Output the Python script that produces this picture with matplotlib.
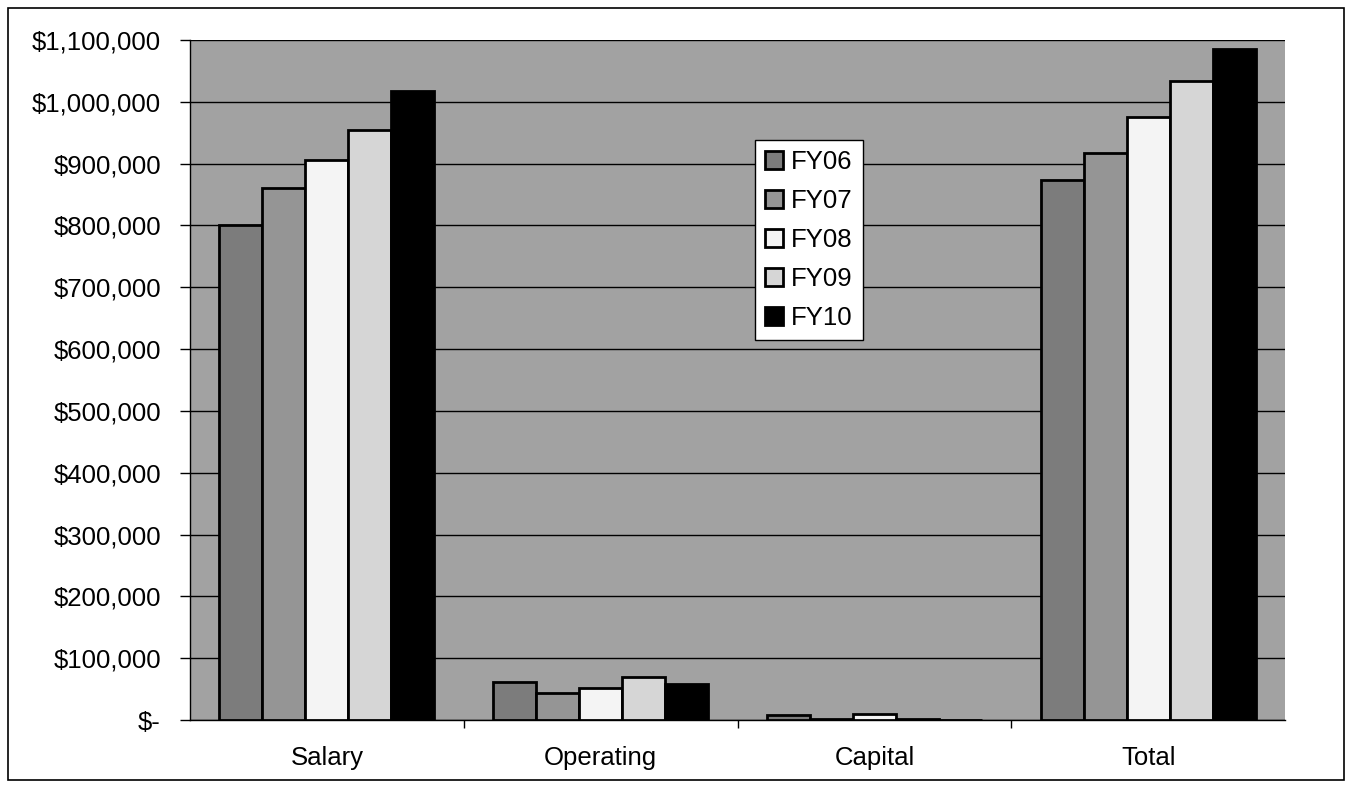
import matplotlib.pyplot as plt
import numpy as np
from matplotlib.patches import Rectangle
from matplotlib.ticker import FuncFormatter

plt.rcParams['font.family'] = ['Liberation Sans', 'DejaVu Sans']

categories = ['Salary', 'Operating', 'Capital', 'Total']
years = ['FY06', 'FY07', 'FY08', 'FY09', 'FY10']
fy06 = [800000, 62000, 8000, 873000]
fy07 = [861000, 44000, 2000, 917000]
fy08 = [906000, 51000, 10000, 975000]
fy09 = [955000, 69000, 1000, 1033000]
fy10 = [1018000, 59000, 0, 1085000]
series = [fy06, fy07, fy08, fy09, fy10]
colors = ['#7c7c7c', '#959595', '#f4f4f4', '#d6d6d6', '#000000']

fig = plt.figure(figsize=(13.54, 7.88), dpi=100)
ax = fig.add_axes([190 / 1354, 1 - 720 / 788, 1095 / 1354, 680 / 788])
ax.set_facecolor('#a2a2a2')

x = np.arange(len(categories))
w = 0.157
for i, (vals, c) in enumerate(zip(series, colors)):
    ax.bar(x + (i - 2) * w, vals, w, color=c, edgecolor='black',
           linewidth=2, label=years[i], zorder=3)

ax.set_xlim(-0.5, 3.5)
ax.set_ylim(0, 1100000)
ax.set_yticks(np.arange(0, 1100001, 100000))
ax.yaxis.set_major_formatter(FuncFormatter(lambda v, p: '$-' if v == 0 else '${:,.0f}'.format(v)))
ax.grid(axis='y', color='black', linewidth=1, zorder=1)
ax.set_xticks(x)
ax.set_xticklabels(categories)
ax.set_xticks([0.5, 1.5, 2.5], minor=True)
ax.tick_params(axis='x', which='major', length=0, pad=19, labelsize=18.5)
ax.tick_params(axis='x', which='minor', length=6, width=1)
ax.tick_params(axis='y', length=7, width=1, pad=14, labelsize=18.5)
for s in ['top', 'right']:
    ax.spines[s].set_visible(False)
ax.spines['left'].set_linewidth(1)
ax.spines['bottom'].set_linewidth(1)

leg = ax.legend(loc='upper left', bbox_to_anchor=(0.516, 0.853), fontsize=18.5,
                frameon=True, fancybox=False, edgecolor='black', framealpha=1,
                handlelength=0.7, handleheight=0.7, handletextpad=0.3,
                labelspacing=0.58, borderpad=0.4, borderaxespad=0)
leg.get_frame().set_linewidth(1)

fig.patches.append(Rectangle((8 / 1354, 1 - 780 / 788), 1336 / 1354, 772 / 788,
                             transform=fig.transFigure, fill=False,
                             edgecolor='black', linewidth=1.2))

fig.savefig('out.png', dpi=100)
